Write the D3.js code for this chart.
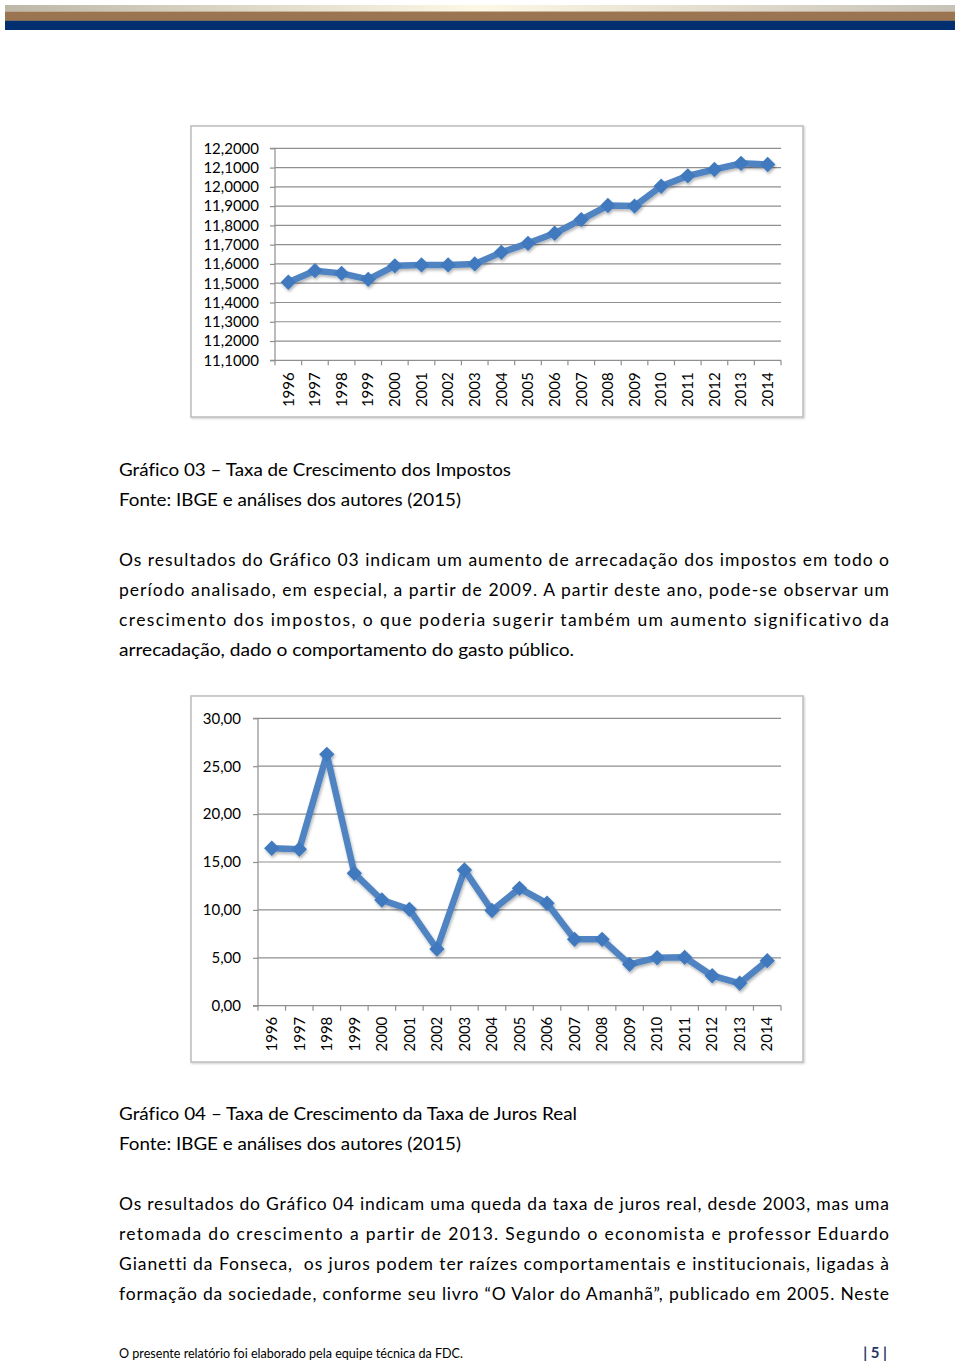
<!DOCTYPE html>
<html><head><meta charset="utf-8">
<script src="https://cdn.jsdelivr.net/npm/d3@7"></script>
<style>
html,body{margin:0;padding:0;background:#fff;}
svg{display:block;}
text{font-variant-ligatures:none;font-feature-settings:"liga" 0,"clig" 0;}
</style></head>
<body>
<script>
// ---------- DATA ----------
const years = ["1996","1997","1998","1999","2000","2001","2002","2003","2004","2005","2006","2007","2008","2009","2010","2011","2012","2013","2014"];
const impostos = [11.505,11.565,11.551,11.52,11.59,11.595,11.595,11.60,11.66,11.707,11.759,11.83,11.903,11.90,12.003,12.057,12.09,12.122,12.116];
const impostosTicks = [11.1,11.2,11.3,11.4,11.5,11.6,11.7,11.8,11.9,12.0,12.1,12.2];
const juros = [16.43,16.33,26.24,13.82,11.03,10.06,5.92,14.17,9.94,12.25,10.69,6.93,6.93,4.32,5.01,5.05,3.13,2.34,4.70];
const jurosTicks = [0,5,10,15,20,25,30];

const caption1 = ["Gráfico 03 – Taxa de Crescimento dos Impostos","Fonte: IBGE e análises dos autores (2015)"];
const para1 = [
 ["Os resultados do Gráfico 03 indicam um aumento de arrecadação dos impostos em todo o", true],
 ["período analisado, em especial, a partir de 2009. A partir deste ano, pode-se observar um", true],
 ["crescimento dos impostos, o que poderia sugerir também um aumento significativo da", true],
 ["arrecadação, dado o comportamento do gasto público.", false]
];
const caption2 = ["Gráfico 04 – Taxa de Crescimento da Taxa de Juros Real","Fonte: IBGE e análises dos autores (2015)"];
const para2 = [
 ["Os resultados do Gráfico 04 indicam uma queda da taxa de juros real, desde 2003, mas uma", true],
 ["retomada do crescimento a partir de 2013. Segundo o economista e professor Eduardo", true],
 ["Gianetti da Fonseca,  os juros podem ter raízes comportamentais e institucionais, ligadas à", true],
 ["formação da sociedade, conforme seu livro “O Valor do Amanhã”, publicado em 2005. Neste", true]
];
const footerText = "O presente relatório foi elaborado pela equipe técnica da FDC.";
const pageNum = "| 5 |";

// ---------- SVG ----------
const W = 960, H = 1365;
const svg = d3.select("body").append("svg").attr("width", W).attr("height", H);
const defs = svg.append("defs");
const grad = defs.append("linearGradient").attr("id","topgrad").attr("x1","0").attr("x2","1");
grad.append("stop").attr("offset","0").attr("stop-color","#bdb7a8");
grad.append("stop").attr("offset","0.5").attr("stop-color","#fdf7e4");
grad.append("stop").attr("offset","1").attr("stop-color","#c6c2b6");
const sh = defs.append("filter").attr("id","shadow").attr("x","-10%").attr("y","-10%").attr("width","120%").attr("height","130%");
sh.append("feDropShadow").attr("dx",1).attr("dy",2).attr("stdDeviation",1.8).attr("flood-color","#000").attr("flood-opacity",0.3);
const bsh = defs.append("filter").attr("id","boxshadow").attr("x","-5%").attr("y","-5%").attr("width","110%").attr("height","110%");
bsh.append("feDropShadow").attr("dx",1).attr("dy",1).attr("stdDeviation",1).attr("flood-color","#000").attr("flood-opacity",0.2);

// header bars
svg.append("rect").attr("x",5).attr("y",5).attr("width",950).attr("height",6.5).attr("fill","url(#topgrad)");
svg.append("rect").attr("x",5).attr("y",11.5).attr("width",950).attr("height",8.5).attr("fill","#9b7552");
svg.append("rect").attr("x",5).attr("y",20).attr("width",950).attr("height",1).attr("fill","#7b6d5e");
svg.append("rect").attr("x",5).attr("y",21).attr("width",950).attr("height",9).attr("fill","#012f70");

const FONT = "Lato, 'Open Sans', sans-serif";
const lineColor = "#4f83c2", markColor = "#4179bd", gridColor = "#8f8f8f";

function drawChart(opts){
  const g = svg.append("g");
  g.append("rect").attr("x",opts.box[0]).attr("y",opts.box[1]).attr("width",opts.box[2]).attr("height",opts.box[3])
    .attr("fill","#fff").attr("stroke","#bcbcbc").attr("stroke-width",1.5).attr("filter","url(#boxshadow)");
  const x = d3.scaleBand().domain(years).range([opts.x0, opts.x1]);
  const y = d3.scaleLinear().domain(opts.domain).range([opts.yb, opts.yt]);
  // gridlines
  g.append("g").selectAll("line").data(opts.ticks.slice(1)).join("line")
    .attr("x1",opts.x0).attr("x2",opts.x1).attr("y1",d=>y(d)).attr("y2",d=>y(d))
    .attr("stroke",gridColor).attr("stroke-width",1.2);
  // y axis
  const ya = d3.axisLeft(y).tickValues(opts.ticks).tickSize(5).tickFormat(opts.fmt);
  const yg = g.append("g").attr("transform",`translate(${opts.x0},0)`).call(ya);
  yg.select(".domain").attr("stroke",gridColor).attr("stroke-width",1.2).attr("d",`M-5,${opts.yb}H0V${opts.yt}H-5`);
  yg.selectAll(".tick line").attr("stroke",gridColor).attr("stroke-width",1.2);
  yg.selectAll(".tick text").attr("x",-opts.ylabOff).attr("fill","#000").attr("font-family",FONT).attr("font-size",opts.fs);
  // x axis
  const xa = g.append("g").attr("transform",`translate(0,${opts.yb})`);
  xa.append("line").attr("x1",opts.x0).attr("x2",opts.x1).attr("stroke",gridColor).attr("stroke-width",1.2);
  const bounds = years.map(d=>x(d)).concat([opts.x1]);
  xa.selectAll("line.t").data(bounds).join("line").attr("class","t")
    .attr("x1",d=>d).attr("x2",d=>d).attr("y1",0).attr("y2",5).attr("stroke",gridColor).attr("stroke-width",1.2);
  xa.selectAll("text").data(years).join("text")
    .attr("transform",d=>`translate(${x(d)+x.bandwidth()/2},${opts.xlabOff}) rotate(-90)`)
    .attr("text-anchor","end").attr("dy","0.35em").attr("font-family",FONT).attr("font-size",opts.fs).attr("fill","#000")
    .text(d=>d);
  // line
  const pts = years.map((d,i)=>[x(d)+x.bandwidth()/2, y(opts.values[i])]);
  const lg = g.append("g").attr("filter","url(#shadow)");
  lg.append("path").attr("d",d3.line()(pts)).attr("fill","none").attr("stroke",lineColor)
    .attr("stroke-width",6.5).attr("stroke-linejoin","round");
  lg.selectAll("path.m").data(pts).join("path").attr("class","m")
    .attr("d",d3.symbol(d3.symbolSquare, 118)())
    .attr("transform",d=>`translate(${d[0]},${d[1]}) rotate(45)`)
    .attr("fill",markColor);
}

drawChart({box:[191,126,612,291], x0:275, x1:781, yb:360.3, yt:148.3, domain:[11.1,12.2],
  ticks:impostosTicks, values:impostos, fmt:d=>d3.format(".4f")(d).replace(".",","), ylabOff:16, xlabOff:12, fs:15});
drawChart({box:[191,696,612,366], x0:258, x1:781, yb:1005.7, yt:718.3, domain:[0,30],
  ticks:jurosTicks, values:juros, fmt:d=>d3.format(".2f")(d).replace(".",","), ylabOff:17, xlabOff:11, fs:15});

// ---------- TEXT ----------
const TF = 17.5;
function txt(s, yc, width, justify){
  const t = svg.append("text").attr("x",119).attr("y",yc).attr("dy","0.35em")
    .attr("font-family",FONT).attr("font-size",TF).attr("fill","#000").style("white-space","pre").text(s);
  if (width) t.attr("textLength",width).attr("lengthAdjust", justify ? "spacing" : "spacingAndGlyphs");
  return t;
}
txt(caption1[0], 470, 392);
txt(caption1[1], 500, 342);
para1.forEach((l,i)=>txt(l[0], 560+30*i, l[1]?770:455, l[1]));
txt(caption2[0], 1114, 458);
txt(caption2[1], 1144, 342);
para2.forEach((l,i)=>txt(l[0], 1204+30*i, 770, true));

svg.append("text").attr("x",119).attr("y",1354).attr("dy","0.35em").attr("font-family",FONT).attr("font-size",12.5)
  .attr("fill","#000").attr("textLength",344).attr("lengthAdjust","spacingAndGlyphs").text(footerText);
svg.append("text").attr("x",887).attr("y",1353).attr("dy","0.35em").attr("text-anchor","end").attr("font-family",FONT)
  .attr("font-weight","bold").attr("font-size",15).attr("fill","#1f3864").style("white-space","pre").text(pageNum);
</script>
</body></html>
